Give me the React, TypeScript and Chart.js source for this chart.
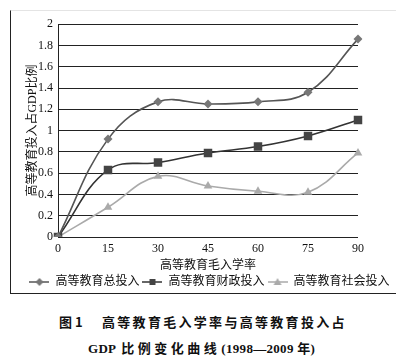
import React, { useEffect, useRef } from "react";
import { Chart, registerables } from "chart.js";

Chart.register(...registerables);

const enrollmentRates = ["0", "15", "30", "45", "60", "75", "90"];
const totalInvestment = [0, 0.92, 1.27, 1.25, 1.27, 1.36, 1.86];
const fiscalInvestment = [0, 0.63, 0.7, 0.79, 0.85, 0.95, 1.1];
const socialInvestment = [0, 0.28, 0.57, 0.48, 0.43, 0.42, 0.79];
const seriesNames = ["高等教育总投入", "高等教育财政投入", "高等教育社会投入"];
const xTitle = "高等教育毛入学率";
const yTitle = "高等教育投入占GDP比例";
const captionLine1a = "图 1";
const captionLine1b = "高等教育毛入学率与高等教育投入占";
const captionLine2a = "GDP";
const captionLine2b = "比例变化曲线";
const captionLine2c = "(1998—2009 年)";

const FONT = "'Liberation Serif', 'Noto Sans CJK SC', serif";

function legendIcon(kind: string, fill: string, line: string) {
  const c = document.createElement("canvas");
  c.width = 20;
  c.height = 10;
  const ctx = c.getContext("2d")!;
  ctx.strokeStyle = line;
  ctx.lineWidth = 1.5;
  ctx.beginPath();
  ctx.moveTo(0, 5);
  ctx.lineTo(20, 5);
  ctx.stroke();
  ctx.fillStyle = fill;
  ctx.beginPath();
  if (kind === "diamond") {
    ctx.moveTo(10, 1);
    ctx.lineTo(14, 5);
    ctx.lineTo(10, 9);
    ctx.lineTo(6, 5);
  } else if (kind === "square") {
    ctx.rect(7, 2, 6, 6);
  } else {
    ctx.moveTo(10, 1);
    ctx.lineTo(14, 8);
    ctx.lineTo(6, 8);
  }
  ctx.closePath();
  ctx.fill();
  return c;
}

export default function App() {
  const ref = useRef<HTMLCanvasElement>(null);

  useEffect(() => {
    if (!ref.current) return;
    const styles = [
      { kind: "diamond", fill: "#777", line: "#555", ps: "rectRot", r: 4.5 },
      { kind: "square", fill: "#444", line: "#333", ps: "rect", r: 6 },
      { kind: "triangle", fill: "#aaa", line: "#aaa", ps: "triangle", r: 5 },
    ];
    const icons = styles.map((s) => legendIcon(s.kind, s.fill, s.line));
    const values = [totalInvestment, fiscalInvestment, socialInvestment];

    const chart = new Chart(ref.current, {
      type: "line",
      data: {
        labels: enrollmentRates,
        datasets: values.map((v, i) => ({
          label: seriesNames[i],
          data: v,
          yAxisID: "y",
          borderColor: styles[i].line,
          backgroundColor: styles[i].fill,
          pointBackgroundColor: styles[i].fill,
          pointBorderColor: styles[i].fill,
          pointBorderWidth: 0,
          pointStyle: styles[i].ps as any,
          pointRadius: styles[i].r,
          borderWidth: 1.6,
          tension: 0.4,
          fill: false,
        })),
      },
      options: {
        animation: false,
        responsive: false,
        maintainAspectRatio: false,
        layout: { padding: { top: 11, right: 0, left: 0, bottom: 0 } },
        plugins: {
          tooltip: { enabled: false },
          legend: {
            position: "bottom",
            maxHeight: 18,
            labels: {
              usePointStyle: true,
              pointStyleWidth: 20,
              padding: 3,
              color: "#111",
              font: { family: FONT, size: 12 },
              generateLabels: (ch: any) =>
                ch.data.datasets.map((d: any, i: number) => ({
                  text: d.label,
                  pointStyle: icons[i],
                  fillStyle: "transparent",
                  strokeStyle: "transparent",
                  lineWidth: 0,
                  fontColor: "#111",
                  hidden: false,
                  datasetIndex: i,
                })),
            },
          },
        },
        scales: {
          x: {
            type: "category",
            offset: false,
            grid: { display: false, drawTicks: false },
            border: { display: false },
            ticks: {
              padding: 5,
              color: "#111",
              font: { family: FONT, size: 12 },
              maxRotation: 0,
            },
            title: {
              display: true,
              text: xTitle,
              color: "#111",
              font: { family: FONT, size: 12 },
              padding: { top: 0, bottom: 0 },
            },
            afterFit: (s: any) => {
              s.height = 36;
            },
          },
          y: {
            min: 0,
            max: 2,
            grid: { color: "#222", lineWidth: 1, drawTicks: false },
            border: { display: true, color: "#222", width: 1 },
            ticks: {
              stepSize: 0.2,
              padding: 5,
              color: "#111",
              font: { family: FONT, size: 12 },
              callback: (v: any) => String(Number(Number(v).toFixed(1))),
            },
            title: {
              display: true,
              text: yTitle,
              color: "#111",
              font: { family: FONT, size: 12 },
              padding: { top: 14, bottom: 0 },
            },
            afterFit: (s: any) => {
              s.width = 46;
            },
          },
          spacer: {
            type: "linear",
            position: "right",
            display: true,
            grid: { display: false, drawTicks: false },
            border: { display: false },
            ticks: { display: false },
            afterFit: (s: any) => {
              s.width = 49;
            },
          },
        },
      },
    });
    return () => chart.destroy();
  }, []);

  const cjkBold = {
    fontFamily: "'Noto Sans CJK SC', sans-serif",
    fontWeight: "bold" as const,
    fontSize: 13,
  };
  const serifBold = {
    fontFamily: "'Liberation Serif', 'Noto Sans CJK SC', serif",
    fontWeight: "bold" as const,
    fontSize: 13,
  };

  return (
    <div
      style={{
        position: "absolute",
        left: 0,
        top: 0,
        width: 407,
        height: 364,
        background: "#fff",
        overflow: "hidden",
      }}
    >
      <div
        style={{
          position: "absolute",
          left: 10,
          top: 10,
          width: 385,
          height: 282,
          borderLeft: "1px solid #222",
          borderTop: "1px solid #e4e4e4",
          borderBottom: "1px solid #222",
        }}
      />
      <canvas
        ref={ref}
        width={395}
        height={279}
        style={{ position: "absolute", left: 12, top: 12, width: 395, height: 279 }}
      />
      <div
        style={{
          position: "absolute",
          left: 59,
          top: 313,
          ...cjkBold,
          whiteSpace: "nowrap",
          color: "#111",
          lineHeight: "18px",
        }}
      >
        {captionLine1a}
      </div>
      <div
        style={{
          position: "absolute",
          left: 102,
          top: 313,
          ...cjkBold,
          letterSpacing: "2.3px",
          whiteSpace: "nowrap",
          color: "#111",
          lineHeight: "18px",
        }}
      >
        {captionLine1b}
      </div>
      <div
        style={{
          position: "absolute",
          left: 88,
          top: 339,
          whiteSpace: "nowrap",
          color: "#111",
          lineHeight: "18px",
        }}
      >
        <span style={{ ...serifBold, letterSpacing: "0.3px" }}>{captionLine2a}</span>
        <span style={{ ...cjkBold, letterSpacing: "3.5px", marginLeft: 5 }}>{captionLine2b}</span>
        <span style={{ ...serifBold, letterSpacing: "0.3px", marginLeft: 1 }}>{captionLine2c}</span>
      </div>
    </div>
  );
}
